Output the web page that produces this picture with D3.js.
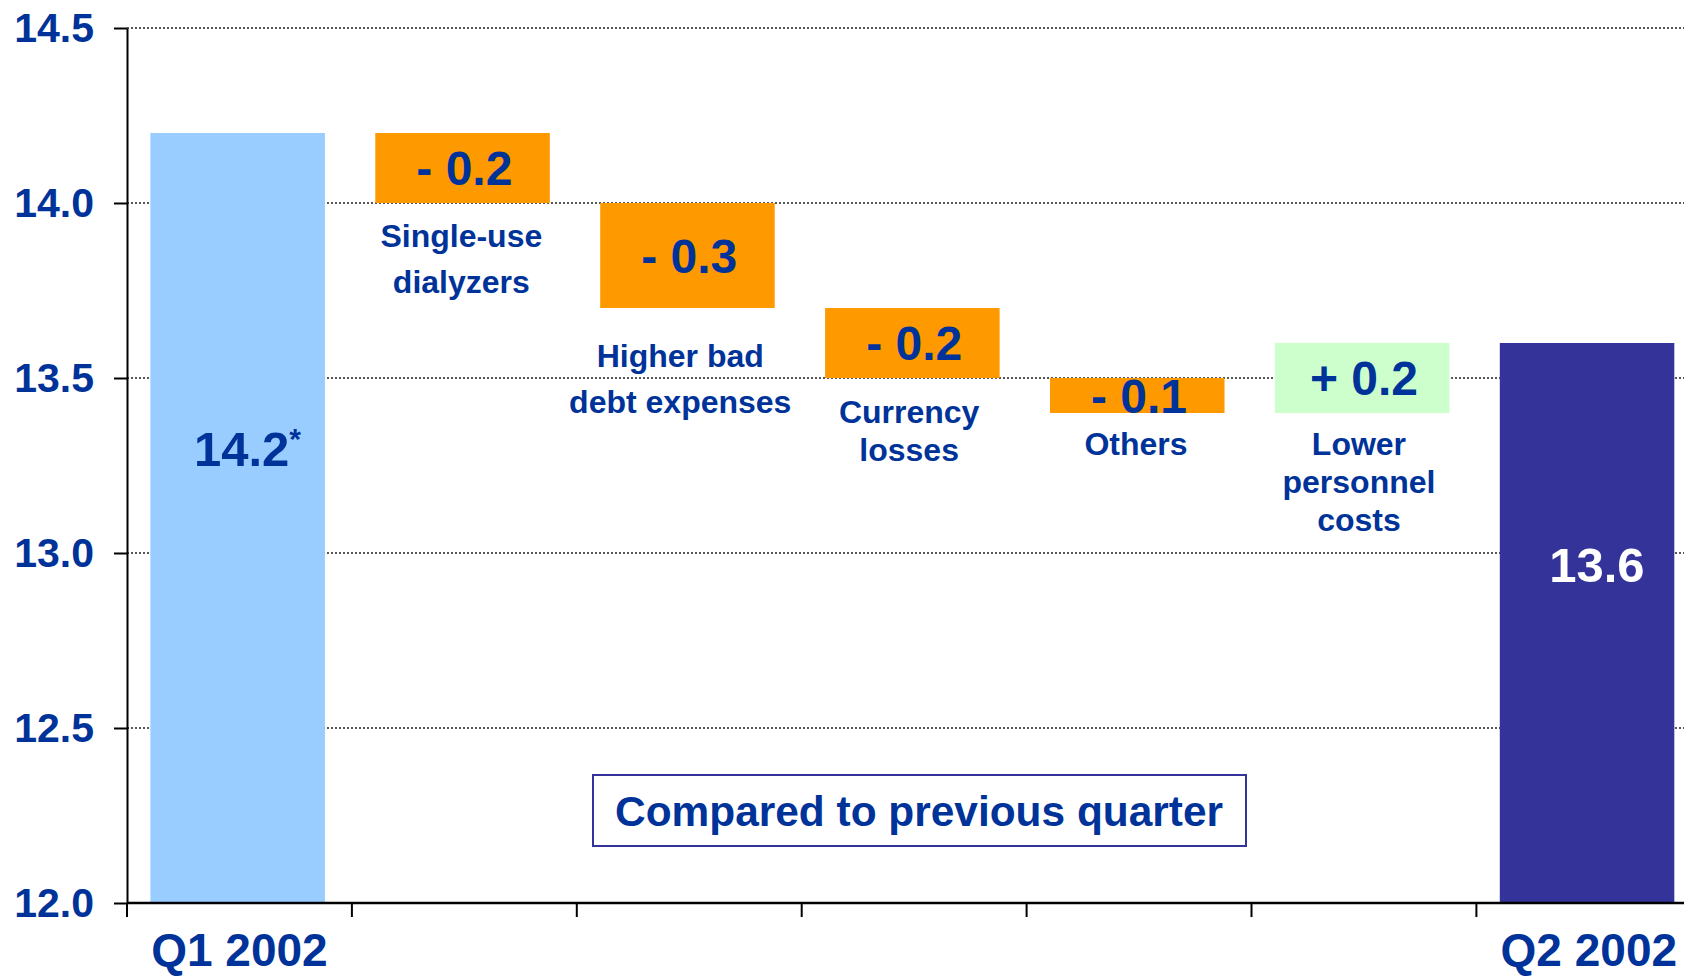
<!DOCTYPE html>
<html>
<head>
<meta charset="utf-8">
<script src="https://cdn.jsdelivr.net/npm/d3@7"></script>
<style>
  body { margin: 0; background: #fff; }
  svg { display: block; font-family: "Liberation Sans", Arial, sans-serif; font-weight: bold; }
</style>
</head>
<body>
<div id="chart"></div>
<script>
// data
var categories = ["Q1 2002", "Single-use dialyzers", "Higher bad debt expenses", "Currency losses", "Others", "Lower personnel costs", "Q2 2002"];
var changes = [14.2, -0.2, -0.3, -0.2, -0.1, 0.2, 13.6];
var isTotal = [true, false, false, false, false, false, true];
var valueLabels = ["14.2", "- 0.2", "- 0.3", "- 0.2", "- 0.1", "+ 0.2", "13.6"];
var labelLines = [[], ["Single-use", "dialyzers"], ["Higher bad", "debt expenses"], ["Currency", "losses"], ["Others"], ["Lower", "personnel", "costs"], []];
var yTicks = [12.0, 12.5, 13.0, 13.5, 14.0, 14.5];
var note = "Compared to previous quarter";

// layout
var width = 1684, height = 977;
var axisX = 127, yTop = 28, yBottom = 903;
var labelOffset = [0, 44, 59, 45, 42, 42, 0];     // gap box bottom -> first baseline
var labelLineHeight = [0, 46, 46, 38, 38, 38, 0];
var labelShift = [0, -3, -9, -5, -3, -5, 0];       // captions sit a bit left of box centre
var totalLabelDrop = [333, 239];                  // bar top -> value baseline

var blue = "#003399";

var svg = d3.select("#chart").append("svg")
    .attr("width", width)
    .attr("height", height);

var x = d3.scaleBand()
    .domain(categories)
    .range([axisX, axisX + 7 * 224.9]);
var y = d3.scaleLinear()
    .domain([12, 14.5])
    .range([yBottom, yTop]);

var bw = x.bandwidth();

// waterfall steps
var running = 0;
var steps = categories.map(function(c, i) {
  var from, to;
  if (isTotal[i]) {
    from = y.domain()[0]; to = changes[i]; running = changes[i];
  } else {
    from = running; to = running + changes[i]; running = to;
  }
  return {cat: c, i: i, lo: Math.min(from, to), hi: Math.max(from, to), change: changes[i]};
});

function fillFor(d) {
  if (d.i == 0) return "#99ccff";
  if (d.i == categories.length - 1) return "#333399";
  return d.change < 0 ? "#ff9900" : "#ccffcc";
}

// dotted grid
svg.selectAll(".grid")
    .data(yTicks.filter(function(t) { return t > 12; }))
  .enter().append("line")
    .attr("class", "grid")
    .attr("x1", axisX)
    .attr("x2", width)
    .attr("y1", function(d) { return y(d); })
    .attr("y2", function(d) { return y(d); })
    .style("stroke", "#222")
    .style("stroke-width", 1.3)
    .style("stroke-dasharray", "2,2");

// bars / boxes
svg.selectAll(".bar")
    .data(steps)
  .enter().append("rect")
    .attr("class", "bar")
    .attr("x", function(d) { return x(d.cat) + bw * 0.104; })
    .attr("width", bw * 0.776)
    .attr("y", function(d) { return y(d.hi); })
    .attr("height", function(d) { return y(d.lo) - y(d.hi); })
    .style("fill", fillFor);

// y axis
var yAxis = d3.axisLeft(y)
    .tickValues(yTicks)
    .tickFormat(d3.format(".1f"))
    .tickSize(13)
    .tickSizeOuter(0)
    .tickPadding(20);

var gy = svg.append("g")
    .attr("transform", "translate(" + axisX + ",0)")
    .call(yAxis)
    .attr("font-family", "'Liberation Sans', Arial, sans-serif")
    .attr("font-size", 41);
gy.select(".domain").style("stroke", "#000").style("stroke-width", 2);
gy.selectAll(".tick line").style("stroke", "#000").style("stroke-width", 2);
gy.selectAll(".tick text").style("fill", blue).style("font-weight", "bold");

// x axis line + ticks at band edges
svg.append("line")
    .attr("x1", axisX).attr("x2", width)
    .attr("y1", yBottom).attr("y2", yBottom)
    .style("stroke", "#000").style("stroke-width", 2.5);

svg.selectAll(".xtick")
    .data(categories)
  .enter().append("line")
    .attr("class", "xtick")
    .attr("x1", function(d) { return x(d); })
    .attr("x2", function(d) { return x(d); })
    .attr("y1", yBottom)
    .attr("y2", yBottom + 14)
    .style("stroke", "#000").style("stroke-width", 2);

// values in the change boxes
var deltas = steps.filter(function(d) { return !isTotal[d.i]; });
svg.selectAll(".val")
    .data(deltas)
  .enter().append("text")
    .attr("class", "val")
    .attr("x", function(d) { return x(d.cat) + bw / 2; })
    .attr("y", function(d) { return (y(d.hi) + y(d.lo)) / 2 + 17; })
    .attr("text-anchor", "middle")
    .style("font-size", "48px")
    .style("fill", blue)
    .text(function(d) { return valueLabels[d.i]; });

// category captions under the boxes
deltas.forEach(function(d) {
  var t = svg.append("text")
      .attr("text-anchor", "middle")
      .style("font-size", "32px")
      .style("fill", blue);
  labelLines[d.i].forEach(function(line, k) {
    t.append("tspan")
        .attr("x", x(d.cat) + bw / 2 + labelShift[d.i])
        .attr("y", y(d.lo) + labelOffset[d.i] + k * labelLineHeight[d.i])
        .text(line);
  });
});

// totals
var totals = steps.filter(function(d) { return isTotal[d.i]; });
totals.forEach(function(d, k) {
  var t = svg.append("text")
      .attr("x", x(d.cat) + bw / 2 + 8)
      .attr("y", y(d.hi) + totalLabelDrop[k])
      .attr("text-anchor", "middle")
      .style("font-size", "49px")
      .style("fill", k == 0 ? blue : "#fff")
      .text(valueLabels[d.i]);
  if (k == 0) {
    t.append("tspan")
        .attr("dy", -17)
        .style("font-size", "30px")
        .text("*");
  }
  svg.append("text")
      .attr("x", x(d.cat) + bw / 2)
      .attr("y", 966)
      .attr("text-anchor", "middle")
      .style("font-size", "46px")
      .style("fill", blue)
      .text(d.cat);
});

// note box
svg.append("rect")
    .attr("x", 593).attr("y", 775)
    .attr("width", 653).attr("height", 71)
    .style("fill", "#fff")
    .style("stroke", "#333399")
    .style("stroke-width", 2);

svg.append("text")
    .attr("x", 919)
    .attr("y", 826)
    .attr("text-anchor", "middle")
    .attr("textLength", 608)
    .attr("lengthAdjust", "spacingAndGlyphs")
    .style("font-size", "42px")
    .style("fill", blue)
    .text(note);
</script>
</body>
</html>
